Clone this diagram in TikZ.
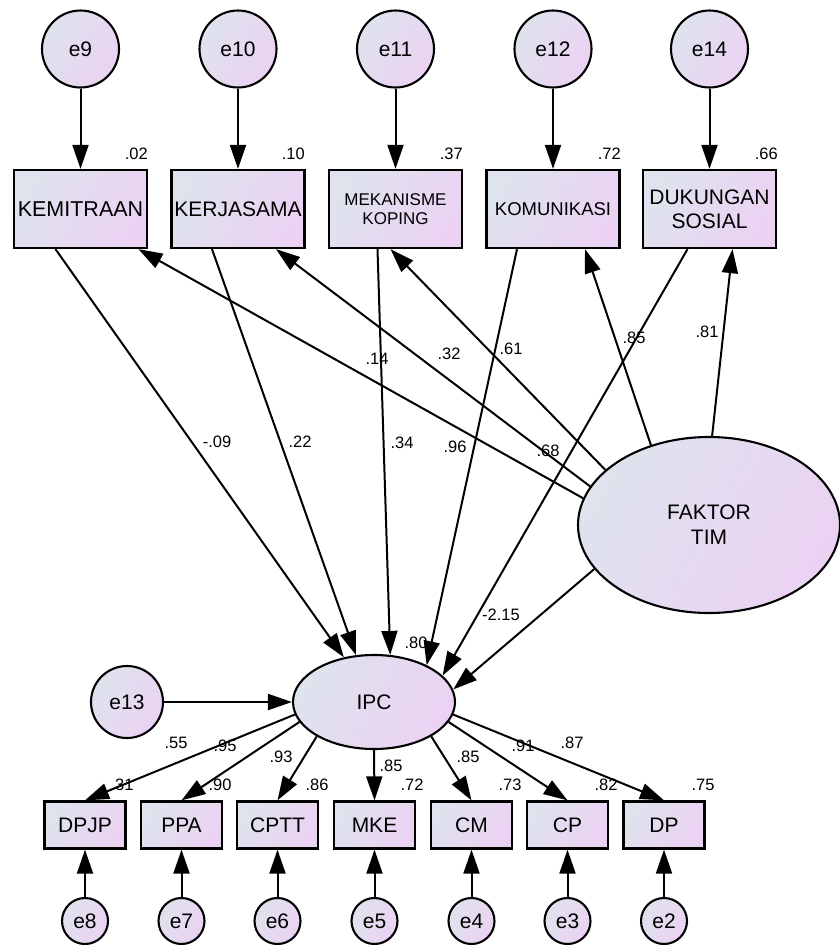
\documentclass[tikz,border=0pt]{standalone}
\usepackage{fontspec}
\setmainfont{Liberation Sans}
\usetikzlibrary{arrows.meta,shapes.geometric,calc}
\definecolor{cA}{RGB}{222,227,237}
\definecolor{cB}{RGB}{235,210,243}
\begin{document}
\begin{tikzpicture}[x=1pt,y=-1pt,
  grad/.style={top color=cA, bottom color=cB, shading angle=60},
  err/.style={circle, draw, line width=2.1pt, grad, minimum size=77pt, inner sep=0pt, font=\fontsize{21}{23}\selectfont},
  errs/.style={err, minimum size=46pt},
  bigbox/.style={rectangle, draw, line width=2.3pt, grad, minimum width=133pt, minimum height=78pt, inner sep=0pt, align=center},
  sbox/.style={rectangle, draw, line width=2.3pt, grad, minimum width=81pt, minimum height=47pt, inner sep=0pt, font=\fontsize{21}{23}\selectfont},
  lat/.style={ellipse, draw, line width=2.1pt, grad, inner sep=0pt, align=center, font=\fontsize{21}{25}\selectfont},
  num/.style={font=\fontsize{16.5}{18}\selectfont, inner sep=0pt},
  arr/.style={line width=2pt, -{Triangle[length=24pt,width=16pt]}}
]
\useasboundingbox (0,0) rectangle (840,945);

% top error terms
\node[err] (e9)  at (80.5,49) {e9};
\node[err] (e10) at (238,49) {e10};
\node[err] (e11) at (395.5,49) {e11};
\node[err] (e12) at (553,49) {e12};
\node[err] (e14) at (709.5,49) {e14};

% top boxes
\node[bigbox, font=\fontsize{21.5}{23}\selectfont] (kem) at (80.5,209) {KEMITRAAN};
\node[bigbox, font=\fontsize{21}{23}\selectfont] (ker) at (238,209) {KERJASAMA};
\node[bigbox, font=\fontsize{17}{19}\selectfont] (mek) at (395.5,209) {MEKANISME\\KOPING};
\node[bigbox, font=\fontsize{18.5}{21}\selectfont] (kom) at (553,209) {KOMUNIKASI};
\node[bigbox, font=\fontsize{21}{24}\selectfont] (duk) at (709.5,209) {DUKUNGAN\\SOSIAL};

% R2 labels top
\node[num, anchor=east] (r02) at (148,154) {.02};
\node[num, anchor=east] (r10) at (305,154) {.10};
\node[num, anchor=east] (r37) at (463,154) {.37};
\node[num, anchor=east] (r72) at (621,154) {.72};
\node[num, anchor=east] (r66) at (778,154) {.66};

% latent variables
\node[lat, minimum width=262pt, minimum height=176pt] (fak) at (709,525) {FAKTOR\\TIM};
\node[lat, minimum width=162pt, minimum height=94pt] (ipc) at (374,702) {IPC};
\node[err, minimum size=72pt] (e13) at (127,702) {e13};

% bottom boxes
\node[sbox] (dpjp) at (85,825) {DPJP};
\node[sbox] (ppa)  at (181.5,825) {PPA};
\node[sbox] (cptt) at (277.5,825) {CPTT};
\node[sbox] (mke)  at (374.5,825) {MKE};
\node[sbox] (cm)   at (471.5,825) {CM};
\node[sbox] (cp)   at (567.5,825) {CP};
\node[sbox] (dp)   at (664,825) {DP};

% bottom error terms
\node[errs] (e8) at (85,921) {e8};
\node[errs] (e7) at (181.5,921) {e7};
\node[errs] (e6) at (277.5,921) {e6};
\node[errs] (e5) at (374.5,921) {e5};
\node[errs] (e4) at (471.5,921) {e4};
\node[errs] (e3) at (567.5,921) {e3};
\node[errs] (e2) at (664,921) {e2};

% error arrows top
\draw[arr] (e9) -- (kem);
\draw[arr] (e10) -- (ker);
\draw[arr] (e11) -- (mek);
\draw[arr] (e12) -- (kom);
\draw[arr] (e14) -- (duk);

% dimension -> IPC
\draw[arr] ($(kem.south)+(-25,0)$) -- (ipc.124);
\draw[arr] ($(ker.south)+(-26,0)$) -- (ipc.111);
\draw[arr] ($(mek.south)+(-18,0)$) -- (ipc.71);
\draw[arr] ($(kom.south)+(-36,0)$) -- (ipc.35);
\draw[arr] ($(duk.south)+(-22,0)$) -- (ipc.21);
\draw[arr] (fak.201) -- (ipc.9);

% FAKTOR -> dimensions
\draw[arr] (fak.168) -- ($(kem.south)+(58,0)$);
\draw[arr] (fak.162) -- ($(ker.south)+(38,0)$);
\draw[arr] (fak.152) -- ($(mek.south)+(-5,0)$);
\draw[arr] (fak.126) -- ($(kom.south)+(32,0)$);
\draw[arr] (fak.88) -- ($(duk.south)+(23,0)$);

% e13 -> IPC
\draw[arr] (e13) -- (ipc);

% IPC -> indicators
\draw[arr] (ipc.189) -- (dpjp.north);
\draw[arr] (ipc.195) -- (ppa.north);
\draw[arr] (ipc.211) -- (cptt.north);
\draw[arr] (ipc.270) -- (mke.north);
\draw[arr] (ipc.329) -- (cm.north);
\draw[arr] (ipc.345) -- (cp.north);
\draw[arr] (ipc.351) -- (dp.north);

% bottom error arrows
\draw[arr] (e8) -- (dpjp);
\draw[arr] (e7) -- (ppa);
\draw[arr] (e6) -- (cptt);
\draw[arr] (e5) -- (mke);
\draw[arr] (e4) -- (cm);
\draw[arr] (e3) -- (cp);
\draw[arr] (e2) -- (dp);

% path coefficients
\node[num] (c1) at (217,442) {-.09};
\node[num] (c2) at (300,442) {.22};
\node[num] (c3) at (377,359) {.14};
\node[num] (c4) at (402,443) {.34};
\node[num] (c5) at (449,354) {.32};
\node[num] (c6) at (511,349) {.61};
\node[num] (c7) at (455,447) {.96};
\node[num] (c8) at (548,451) {.68};
\node[num] (c9) at (634,338) {.85};
\node[num] (c10) at (707,332) {.81};
\node[num] (c11) at (501,615) {-2.15};
\node[num] (c12) at (416,643) {.80};

% loadings
\node[num] (l1) at (176,743) {.55};
\node[num] (l2) at (225,746) {.95};
\node[num] (l3) at (281,757) {.93};
\node[num] (l4) at (391,766) {.85};
\node[num] (l5) at (468,757) {.85};
\node[num] (l6) at (523,746) {.91};
\node[num] (l7) at (572,743) {.87};

% R2 bottom
\node[num] (b1) at (122,785) {.31};
\node[num] (b2) at (220,785) {.90};
\node[num] (b3) at (317,785) {.86};
\node[num] (b4) at (412,785) {.72};
\node[num] (b5) at (510,785) {.73};
\node[num] (b6) at (606,785) {.82};
\node[num] (b7) at (703,785) {.75};
\end{tikzpicture}
\end{document}
